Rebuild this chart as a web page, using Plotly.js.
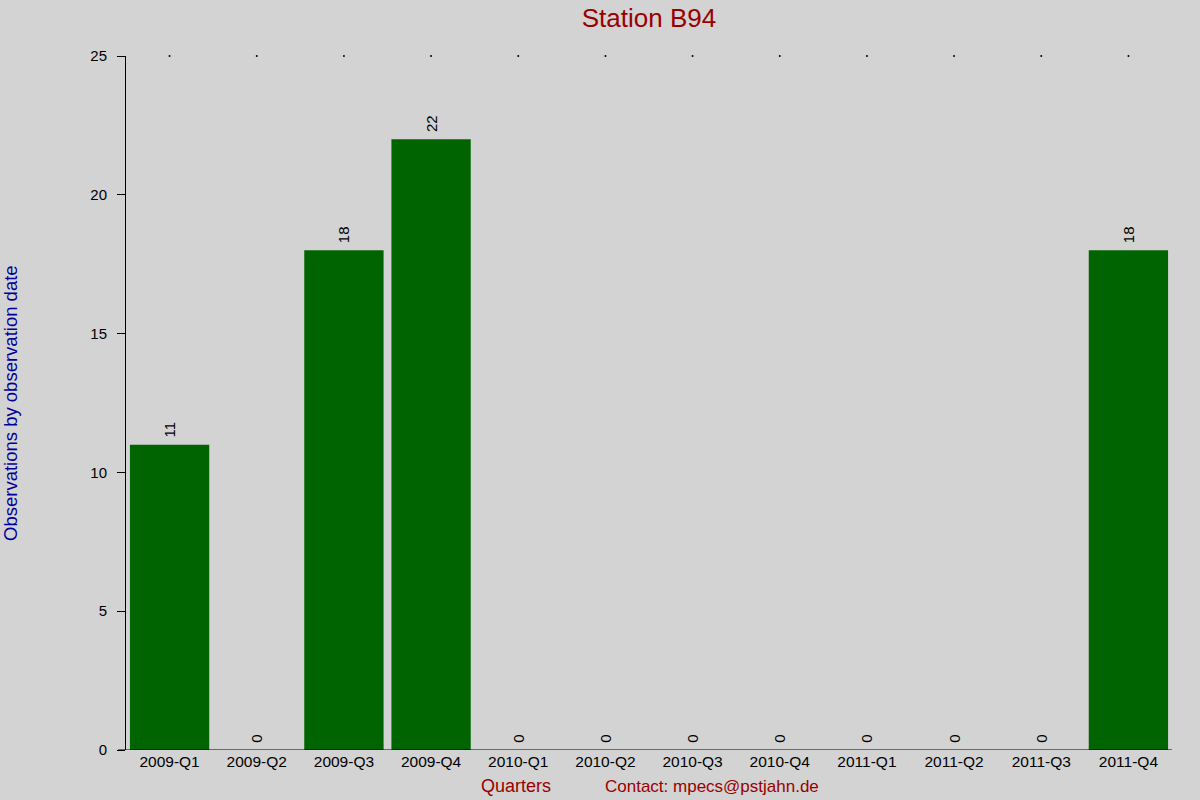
<!DOCTYPE html>
<html>
<head>
<meta charset="utf-8">
<script src="https://cdn.plot.ly/plotly-3.0.1.min.js"></script>
<style>
  body { margin: 0; background: #d3d3d3; }
  #chart { width: 1200px; height: 800px; }
</style>
</head>
<body>
<div id="chart"></div>
<script>
// quarters and observation counts for station B94
var quarters = ['2009-Q1', '2009-Q2', '2009-Q3', '2009-Q4',
                '2010-Q1', '2010-Q2', '2010-Q3', '2010-Q4',
                '2011-Q1', '2011-Q2', '2011-Q3', '2011-Q4'];
var counts = [11, 0, 18, 22, 0, 0, 0, 0, 0, 0, 0, 18];
var yMax = 25;

var bars = {
  x: quarters,
  y: counts,
  type: 'bar',
  marker: {color: '#006400'},
  // leading nbsp gives the small gap between bar top and rotated label
  text: counts.map(function (c) { return '\u00a0' + c; }),
  textposition: 'outside',
  textangle: -90,
  constraintext: 'none',
  cliponaxis: false,
  textfont: {family: 'Liberation Sans, Arial', size: 15, color: '#000'},
  hoverinfo: 'x+y'
};

// tiny dots on the top edge, one per category
var dots = {
  x: quarters,
  y: quarters.map(function () { return yMax; }),
  type: 'scatter',
  mode: 'markers',
  marker: {color: '#000', size: 2},
  cliponaxis: false,
  hoverinfo: 'skip'
};

var layout = {
  width: 1200,
  height: 800,
  paper_bgcolor: '#d3d3d3',
  plot_bgcolor: '#d3d3d3',
  margin: {l: 126, r: 28, t: 56, b: 50},
  showlegend: false,
  bargap: 0.09,
  font: {family: 'Liberation Sans, Arial', size: 15, color: '#000'},
  title: {
    text: 'Station B94',
    font: {size: 26, color: '#990000'},
    x: 0.5, xref: 'paper',
    y: 1 - 18 / 800, yanchor: 'middle'
  },
  xaxis: {
    type: 'category',
    range: [-0.5, quarters.length - 0.5],
    showline: false,
    ticks: '',
    showgrid: false,
    zeroline: false,
    tickfont: {size: 15.5}
  },
  yaxis: {
    range: [0, yMax],
    dtick: 5,
    showline: true,
    linecolor: '#000',
    linewidth: 1,
    ticks: 'outside',
    ticklen: 8,
    tickcolor: '#000',
    ticklabelstandoff: 7,
    showgrid: false,
    zeroline: false,
    tickfont: {size: 15}
  },
  shapes: [{
    type: 'line', xref: 'paper', yref: 'y',
    x0: -8 / 1046, x1: 1, y0: 0, y1: 0,
    line: {color: '#000', width: 1}
  }],
  annotations: [
    {
      text: 'Observations by observation date',
      xref: 'paper', yref: 'paper',
      x: -116 / 1046, y: 0.5,
      xanchor: 'center', yanchor: 'middle',
      textangle: -90, showarrow: false,
      font: {size: 18.5, color: '#000099'}
    },
    {
      text: 'Quarters',
      xref: 'paper', yref: 'paper',
      x: (516 - 126) / 1046, y: -36 / 694,
      xanchor: 'center', yanchor: 'middle',
      showarrow: false,
      font: {size: 18, color: '#990000'}
    },
    {
      text: 'Contact: mpecs@pstjahn.de',
      xref: 'paper', yref: 'paper',
      x: (603 - 126) / 1046, y: -36 / 694,
      xanchor: 'left', yanchor: 'middle',
      showarrow: false,
      font: {size: 17, color: '#990000'}
    }
  ]
};

Plotly.newPlot('chart', [bars, dots], layout, {displayModeBar: false, showLink: false});
</script>
</body>
</html>
